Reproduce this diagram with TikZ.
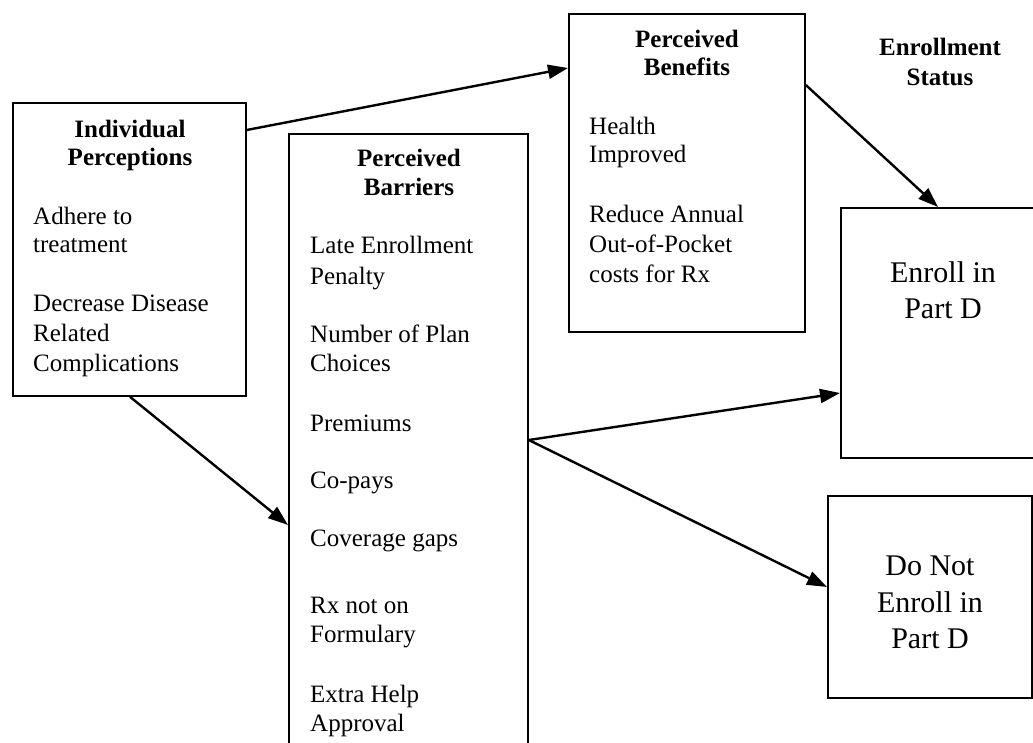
\documentclass[tikz,border=0pt]{standalone}
\usepackage{fontspec}
\setmainfont{Liberation Serif}
\usetikzlibrary{arrows.meta}
\begin{document}
\begin{tikzpicture}[x=1pt,y=-1pt,
  box/.style={draw, line width=1.8pt, rectangle, inner sep=0pt, anchor=north west},
  body/.style={anchor=base west, inner sep=0pt, font=\fontsize{25}{28}\selectfont},
  head/.style={anchor=base, inner sep=0pt, font=\fontsize{25}{28}\selectfont\bfseries},
  big/.style={anchor=base, inner sep=0pt, font=\fontsize{30}{35}\selectfont},
  link/.style={line width=2.4pt, -{Triangle[length=20pt,width=14pt]}}]
\useasboundingbox (0,0) rectangle (1033,743);
\clip (0,0) rectangle (1033,743);

% boxes
\node[box, minimum width=233pt, minimum height=293pt] (ind) at (12,102) {};
\node[box, minimum width=239pt, minimum height=650pt] (bar) at (288,133) {};
\node[box, minimum width=236pt, minimum height=318pt] (ben) at (568,13) {};
\node[box, minimum width=200pt, minimum height=250pt] (enr) at (840,207) {};
\node[box, minimum width=204pt, minimum height=202pt] (dne) at (827,495) {};

% Individual Perceptions
\node[head] (ind-h1) at (130,138) {Individual};
\node[head] (ind-h2) at (130,166) {Perceptions};
\foreach \y/\t [count=\i] in {225/Adhere to, 253/treatment, 311/Decrease Disease,
    341/Related, 371/Complications}
  \node[body] (ind-b\i) at (33,\y) {\t};

% Perceived Barriers
\node[head] (bar-h1) at (409,167) {Perceived};
\node[head] (bar-h2) at (409,196) {Barriers};
\foreach \y/\t [count=\i] in {254/Late Enrollment, 284/Penalty, 342/Number of Plan,
    371/Choices, 431/Premiums, 488/Co-pays, 546/Coverage gaps, 613/Rx not on,
    642/Formulary, 702/Extra Help, 731/Approval}
  \node[body] (bar-b\i) at (310,\y) {\t};

% Perceived Benefits
\node[head] (ben-h1) at (687,48) {Perceived};
\node[head] (ben-h2) at (687,76) {Benefits};
\foreach \y/\t [count=\i] in {135/Health, 163/Improved, 223/Reduce Annual,
    253/Out-of-Pocket, 283/costs for Rx}
  \node[body] (ben-b\i) at (589,\y) {\t};

% Enrollment status
\node[head] (st-1) at (940,56) {Enrollment};
\node[head] (st-2) at (940,86) {Status};
\node[big] (enr-1) at (943,283) {Enroll in};
\node[big] (enr-2) at (943,318) {Part D};
\node[big] (dne-1) at (930,575) {Do Not};
\node[big] (dne-2) at (930,612) {Enroll in};
\node[big] (dne-3) at (930,648) {Part D};

% connectors
\draw[link] ([yshift=-28pt]ind.north east) -- ([yshift=-55pt]ben.north west);
\draw[link] ([xshift=118pt]ind.south west) -- ([yshift=-392pt]bar.north west);
\draw[link] ([yshift=-72pt]ben.north east) -- ([xshift=98pt]enr.north west);
\draw[link] ([yshift=-307pt]bar.north east) -- ([yshift=-186pt]enr.north west);
\draw[link] ([yshift=-307pt]bar.north east) -- ([yshift=-92pt]dne.north west);
\end{tikzpicture}
\end{document}
